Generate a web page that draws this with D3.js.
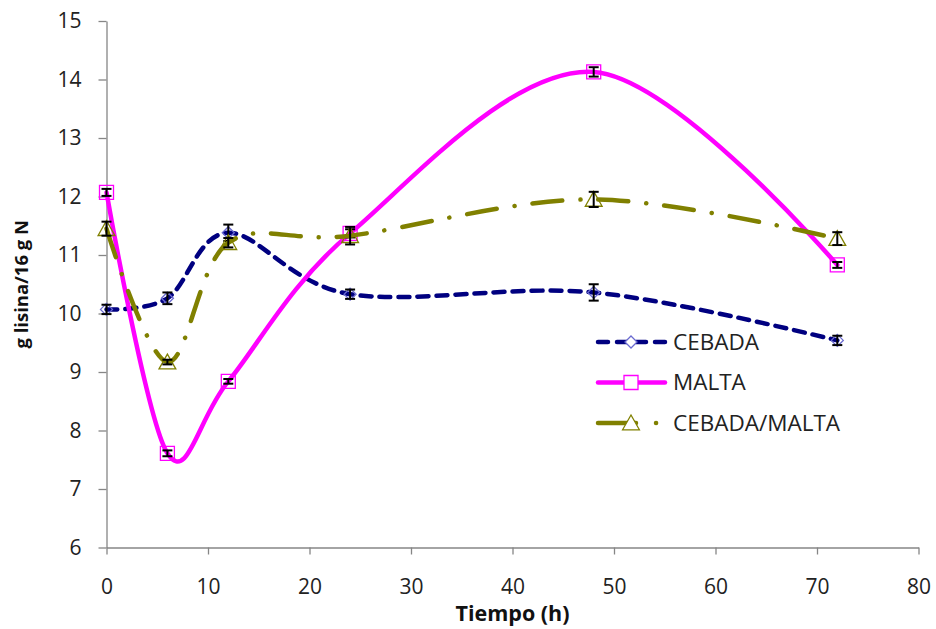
<!DOCTYPE html>
<html>
<head>
<meta charset="utf-8">
<script src="https://cdn.jsdelivr.net/npm/d3@7"></script>
<style>
    body { margin: 0; background: #fff; }
    svg { font-family: 'Open Sans', sans-serif; }
</style>
</head>
<body>
<div id="chart"></div>
<script>
    // data
    var tiempo = [0, 6, 12, 24, 48, 72];
    var cebada = [10.07, 10.26, 11.38, 10.33, 10.36, 9.54];
    var cebada_err = [0.08, 0.1, 0.14, 0.08, 0.14, 0.08];
    var malta = [12.07, 7.61, 8.84, 11.37, 14.13, 10.83];
    var malta_err = [0.06, 0.05, 0.04, 0.07, 0.08, 0.05];
    var cebmal = [11.45, 9.17, 11.21, 11.33, 11.95, 11.28];
    var cebmal_err = [0.12, 0.04, 0.08, 0.15, 0.13, 0.11];
    var series_names = ['CEBADA', 'MALTA', 'CEBADA/MALTA'];
    var x_ticks = [0, 10, 20, 30, 40, 50, 60, 70, 80];
    var y_ticks = [6, 7, 8, 9, 10, 11, 12, 13, 14, 15];

    var width = 936, height = 629;
    var plot_left = 106.5, plot_right = 918.5, plot_top = 21, plot_bottom = 547.5;

    var svg = d3.select('#chart').append('svg')
        .attr('width', width)
        .attr('height', height);

    var x = d3.scaleLinear().domain([0, 80]).range([plot_left, plot_right]);
    var y = d3.scaleLinear().domain([6, 15]).range([plot_bottom, plot_top]);

    // axes
    var y_axis = svg.append('g')
        .attr('transform', 'translate(' + plot_left + ',0)')
        .call(d3.axisLeft(y).tickValues(y_ticks).tickSize(8).tickPadding(17).tickSizeOuter(0));
    var x_axis = svg.append('g')
        .attr('transform', 'translate(0,' + plot_bottom + ')')
        .call(d3.axisBottom(x).tickValues(x_ticks).tickSize(7).tickPadding(25).tickSizeOuter(0));

    [y_axis, x_axis].forEach(function(ax){
        ax.select('.domain').attr('stroke', '#868686').attr('stroke-width', 1.3);
        ax.selectAll('.tick line').attr('stroke', '#868686').attr('stroke-width', 1.3);
        ax.selectAll('.tick text')
            .attr('fill', '#222')
            .attr('font-size', 21)
            .attr('font-family', "'Open Sans', sans-serif");
    });

    svg.append('text')
        .attr('transform', 'translate(28,' + ((plot_top + plot_bottom) / 2) + ') rotate(-90)')
        .attr('text-anchor', 'middle')
        .attr('font-weight', 'bold')
        .attr('font-size', 18.5)
        .attr('fill', '#111')
        .text('g lisina/16 g N');

    svg.append('text')
        .attr('x', (plot_left + plot_right) / 2)
        .attr('y', 621)
        .attr('text-anchor', 'middle')
        .attr('font-weight', 'bold')
        .attr('font-size', 21.5)
        .attr('fill', '#111')
        .text('Tiempo (h)');

    var line = d3.line()
        .x(function(d){ return x(d[0]); })
        .y(function(d){ return y(d[1]); })
        .curve(d3.curveCardinal.tension(0));

    var diamond = function(s){ return 'M0,' + (-s) + 'L' + s + ',0L0,' + s + 'L' + (-s) + ',0Z'; };
    var square = function(s){ return 'M' + (-s) + ',' + (-s) + 'H' + s + 'V' + s + 'H' + (-s) + 'Z'; };
    var triangle = function(s){ return 'M0,' + (-s) + 'L' + (s * 1.05) + ',' + (s * 0.85) + 'L' + (-s * 1.05) + ',' + (s * 0.85) + 'Z'; };

    var series = [
        {name: series_names[0], vals: cebada, err: cebada_err, color: '#000080', dash: '11 8', leg_dash: '10 9', mark: diamond, msize: 6, mcolor: '#6a6ad0'},
        {name: series_names[1], vals: malta, err: malta_err, color: '#ff00ff', dash: null, leg_dash: null, mark: square, msize: 7, mcolor: '#ff00ff'},
        {name: series_names[2], vals: cebmal, err: cebmal_err, color: '#808000', dash: '30 18 0.1 18', leg_dash: '38 20 0.1 40', mark: triangle, msize: 8, mcolor: '#808000'}
    ];

    series.forEach(function(s){
        var pts = tiempo.map(function(t, i){ return [t, s.vals[i], s.err[i]]; });
        var g = svg.append('g');
        g.append('path')
            .datum(pts)
            .attr('d', line)
            .attr('fill', 'none')
            .attr('stroke', s.color)
            .attr('stroke-width', 4.5)
            .attr('stroke-linecap', 'round')
            .attr('stroke-dasharray', s.dash);
        g.selectAll('path.mark')
            .data(pts)
            .enter().append('path')
            .attr('class', 'mark')
            .attr('d', s.mark(s.msize))
            .attr('transform', function(d){ return 'translate(' + x(d[0]) + ',' + y(d[1]) + ')'; })
            .attr('fill', 'none')
            .attr('stroke', s.mcolor)
            .attr('stroke-width', 1.3);
        var eb = g.selectAll('g.err')
            .data(pts)
            .enter().append('g')
            .attr('class', 'err')
            .attr('stroke', '#000')
            .attr('stroke-width', 2);
        eb.append('line')
            .attr('x1', function(d){ return x(d[0]); })
            .attr('x2', function(d){ return x(d[0]); })
            .attr('y1', function(d){ return y(d[1] - d[2]); })
            .attr('y2', function(d){ return y(d[1] + d[2]); });
        [-1, 1].forEach(function(sg){
            eb.append('line')
                .attr('x1', function(d){ return x(d[0]) - 5; })
                .attr('x2', function(d){ return x(d[0]) + 5; })
                .attr('y1', function(d){ return y(d[1] + sg * d[2]); })
                .attr('y2', function(d){ return y(d[1] + sg * d[2]); });
        });
    });

    // legend
    var legend = svg.append('g');
    series.forEach(function(s, i){
        var ly = 342 + i * 40.5;
        var lg = legend.append('g').attr('transform', 'translate(596,' + ly + ')');
        lg.append('line')
            .attr('x1', 2).attr('x2', 69)
            .attr('stroke', s.color)
            .attr('stroke-width', 4.5)
            .attr('stroke-linecap', 'round')
            .attr('stroke-dasharray', s.leg_dash);
        lg.append('path')
            .attr('d', s.mark(s.msize))
            .attr('transform', 'translate(35,0)')
            .attr('fill', '#fff')
            .attr('stroke', s.mcolor)
            .attr('stroke-width', 1.3);
        lg.append('text')
            .attr('x', 77)
            .attr('y', 7.5)
            .attr('font-size', 22.5)
            .attr('fill', '#222')
            .text(s.name);
    });
</script>
</body>
</html>
